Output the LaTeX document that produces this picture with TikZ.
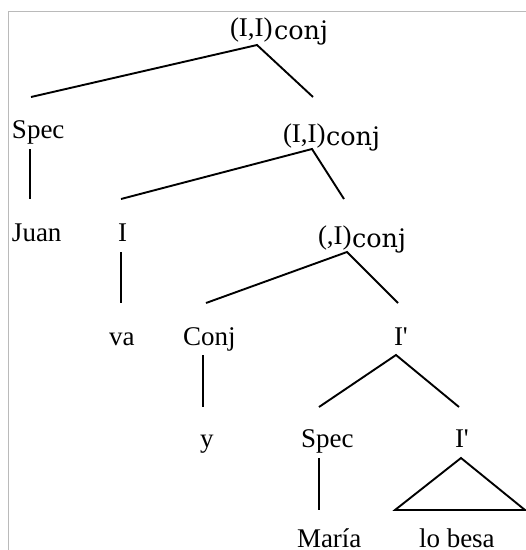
\documentclass[tikz,border=0pt]{standalone}
\usepackage{fontspec}
\setmainfont{Liberation Serif}[Ligatures=TeXOff]
\newfontfamily\conjfont{DejaVu Serif}
\begin{document}
\begin{tikzpicture}[x=1pt,y=-1pt,
  lbl/.style={anchor=base west,inner sep=0pt,outer sep=0pt,font=\fontsize{27}{30}\selectfont},
  sub/.style={anchor=base west,inner sep=0pt,outer sep=0pt,font=\conjfont\fontsize{25.5}{30}\selectfont},
  edge/.style={line width=1.9pt,line cap=butt,line join=miter},
  frame/.style={draw=black!27,line width=1pt}]
\useasboundingbox (0,0) rectangle (526,550);
% frame
\coordinate (f1) at (526,11);
\coordinate (f2) at (8,11);
\coordinate (f3) at (8,550);
\draw[frame] (f1) -- (f2) -- (f3);
% texts
\node[lbl] (t1a) at (230,36) {(I,I)};
\node[sub] (t1b) at (274,39) {conj};
\node[lbl] (spec1) at (12,138) {Spec};
\node[lbl] (t2a) at (283,142) {(I,I)};
\node[sub] (t2b) at (326,145) {conj};
\node[lbl] (juan) at (12,241) {Juan};
\node[lbl] (i1) at (118,241) {I};
\node[lbl] (t3a) at (318,244) {(,I)};
\node[sub] (t3b) at (352,247) {conj};
\node[lbl] (va) at (109,345) {va};
\node[lbl] (conj) at (183,345) {Conj};
\node[lbl] (ib1) at (394,345) {I'};
\node[lbl] (y) at (200,447) {y};
\node[lbl] (spec2) at (301,447) {Spec};
\node[lbl] (ib2) at (455,447) {I'};
\node[lbl,text depth=0pt] (maria) at (297,547.5) {María};
\node[lbl,text depth=0pt] (lobesa) at (419,547.5) {lo besa};
% connector points
\coordinate (a1) at (257,45);
\coordinate (a1l) at (31,97);
\coordinate (a1r) at (313,97);
\coordinate (s1t) at (30,149);
\coordinate (s1b) at (30,199);
\coordinate (a2) at (312,149);
\coordinate (a2l) at (121,199);
\coordinate (a2r) at (344,199);
\coordinate (i1t) at (121,252);
\coordinate (i1b) at (121,303);
\coordinate (a3) at (347,252);
\coordinate (a3l) at (206,303);
\coordinate (a3r) at (398,303);
\coordinate (c1t) at (203,355);
\coordinate (c1b) at (203,407);
\coordinate (a4) at (396,355);
\coordinate (a4l) at (319,407);
\coordinate (a4r) at (459,407);
\coordinate (s2t) at (319,458);
\coordinate (s2b) at (319,510);
\coordinate (tr) at (461,458);
\coordinate (trl) at (395,510);
\coordinate (trr) at (525,510);
% connectors
\draw[edge] (a1l) -- (a1) -- (a1r);
\draw[edge] (s1t) -- (s1b);
\draw[edge] (a2l) -- (a2) -- (a2r);
\draw[edge] (i1t) -- (i1b);
\draw[edge] (a3l) -- (a3) -- (a3r);
\draw[edge] (c1t) -- (c1b);
\draw[edge] (a4l) -- (a4) -- (a4r);
\draw[edge] (s2t) -- (s2b);
\draw[edge] (tr) -- (trl) -- (trr) -- cycle;
\end{tikzpicture}
\end{document}
